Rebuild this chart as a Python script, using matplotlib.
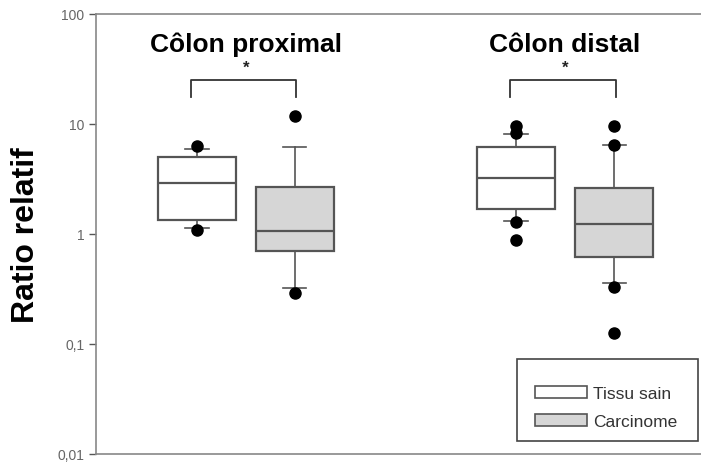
import matplotlib
matplotlib.use("Agg")
import matplotlib.pyplot as plt
from matplotlib.patches import Patch, Rectangle

plt.rcParams['font.family'] = ['Liberation Sans', 'DejaVu Sans']

# ---- data ----
groups = ["Côlon proximal", "Côlon distal"]
tissues = ["Tissu sain", "Carcinome"]
positions = [1.0, 2.0, 4.27, 5.28]
q1 = [1.34, 0.70, 1.69, 0.62]
med = [2.9, 1.06, 3.2, 1.23]
q3 = [5.0, 2.7, 6.2, 2.6]
whislo = [1.13, 0.32, 1.31, 0.36]
whishi = [5.9, 6.2, 8.1, 6.4]
fliers = [[6.3, 1.09], [11.8, 0.29], [9.6, 8.3, 1.29, 0.88], [9.6, 6.4, 0.33, 0.126]]
yticks = [0.01, 0.1, 1, 10, 100]
yticklabels = ["0,01", "0,1", "1", "10", "100"]
bracket_top = 25
bracket_end = 17.6
star_y = 33
title_y = 46

fill_colors = ["white", "#d6d6d6", "white", "#d6d6d6"]
edge = "#555555"

fig = plt.figure(figsize=(7.01, 4.64), dpi=100)
ax = fig.add_axes([96/701, 9/464, 605/701, 440/464])
ax.set_yscale('log')
ax.set_ylim(0.01, 100)
ax.set_xlim(1 - 101/97.5, 1 + 504/97.5)

stats = []
for i in range(4):
    stats.append(dict(med=med[i], q1=q1[i], q3=q3[i], whislo=whislo[i],
                      whishi=whishi[i], fliers=fliers[i]))
bp = ax.bxp(stats, positions=positions, widths=0.8, patch_artist=True,
            capwidths=0.24,
            boxprops=dict(edgecolor=edge, linewidth=1.6),
            medianprops=dict(color=edge, linewidth=1.6),
            whiskerprops=dict(color=edge, linewidth=1.2),
            capprops=dict(color=edge, linewidth=1.2),
            flierprops=dict(marker='o', markerfacecolor='black',
                            markeredgecolor='black', markersize=8))
for p, c in zip(bp['boxes'], fill_colors):
    p.set_facecolor(c)

# significance brackets and titles
for g in range(2):
    xa, xb = positions[2*g] - 0.06, positions[2*g+1] + 0.02
    ax.plot([xa, xa, xb, xb], [bracket_end, bracket_top, bracket_top, bracket_end],
            color='#333333', lw=1.3)
    xm = (positions[2*g] + positions[2*g+1]) / 2
    ax.text(xm, star_y, "*", ha='center', va='center', fontsize=12,
            fontweight='bold', color='#222222')
    ax.text(xm, title_y, groups[g], ha='center', va='baseline', fontsize=19,
            fontweight='bold', color='black')

# axes styling
ax.spines['right'].set_visible(False)
for s in ['top', 'bottom', 'left']:
    ax.spines[s].set_color('#888888')
    ax.spines[s].set_linewidth(1.2)
ax.set_xticks([])
ax.set_yticks(yticks)
ax.set_yticklabels(yticklabels)
ax.minorticks_off()
ax.tick_params(axis='y', colors='#555555', labelsize=10, length=5, width=1)
for t in ax.get_yticklabels():
    t.set_color('#666666')
ax.set_ylabel("Ratio relatif", fontsize=23, fontweight='bold', va='center')
ax.yaxis.set_label_coords((26 - 96) / 605, 0.5)

# legend
handles = [Patch(facecolor=fill_colors[0], edgecolor=edge, lw=1.2, label=tissues[0]),
           Patch(facecolor=fill_colors[1], edgecolor=edge, lw=1.2, label=tissues[1])]
frame = Rectangle(((517-96)/605, (455-442)/440), (698-517)/605, (442-360)/440,
                  transform=ax.transAxes, fill=False, edgecolor='#444444', lw=1.2,
                  clip_on=False)
ax.add_patch(frame)
leg = ax.legend(handles=handles, loc='lower left',
                bbox_to_anchor=((528-96)/605, (455-437)/440),
                frameon=False,
                prop={'size': 12.5},
                handlelength=3.0, handleheight=0.65,
                handletextpad=0.35, labelspacing=0.75, borderaxespad=0)
for t in leg.get_texts():
    t.set_color('#333333')

fig.savefig("out.png", dpi=100)
